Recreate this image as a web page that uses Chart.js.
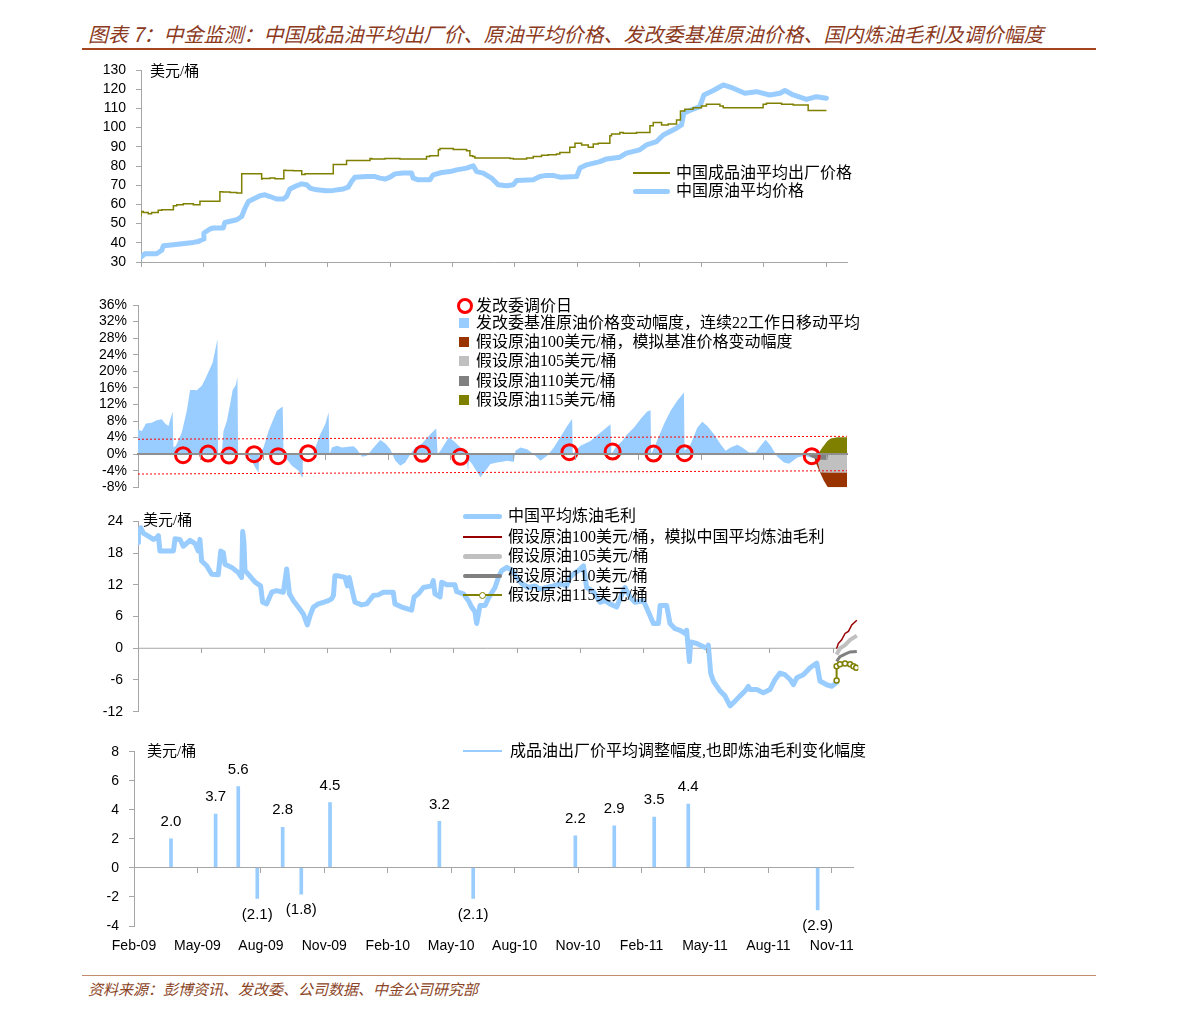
<!DOCTYPE html>
<html lang="zh-CN">
<head>
<meta charset="utf-8">
<title>中金监测：成品油价格、原油价格与炼油毛利</title>
<script src="https://cdn.jsdelivr.net/npm/chart.js@4.4.1/dist/chart.umd.min.js"></script>
<style>
    html, body { margin: 0; padding: 0; background: #fff; }
    #page { position: relative; width: 1191px; height: 1016px; overflow: hidden; }
    #page canvas { position: absolute; left: 0; }
    .txt { position: absolute; white-space: nowrap; font-family: "Liberation Serif", "Noto Sans CJK SC", serif; color: #000; }
    .cap { font-family: "Noto Sans CJK SC", sans-serif; font-style: italic; }
    .sw { position: absolute; box-sizing: border-box; }
</style>
</head>
<body>
<div id="page">
    <canvas id="priceChart"></canvas>
    <canvas id="benchChart"></canvas>
    <canvas id="marginChart"></canvas>
    <canvas id="moveChart"></canvas>
</div>

<script>
// x values are months counted from 1 Feb 2009 (Feb-09 = 0, May-09 = 3, ...)
const quarterLabels = ['Feb-09', 'May-09', 'Aug-09', 'Nov-09', 'Feb-10', 'May-10', 'Aug-10', 'Nov-10', 'Feb-11', 'May-11', 'Aug-11', 'Nov-11'];

// Panel 1: USD/bbl
const exFactoryPrice = [[0, 53.7], [0.11, 56.3], [0.35, 55.8], [0.51, 55.1], [0.83, 55.8], [1.0, 56.9], [1.56, 57.2], [1.72, 59.3], [2.04, 59.8], [2.52, 60.3], [2.84, 59.8], [2.97, 61.7], [3.8, 61.7], [3.93, 66.6], [4.29, 66.4], [4.61, 66.2], [4.85, 65.9], [4.93, 75.9], [5.81, 75.9], [5.84, 73.2], [6.21, 73.5], [6.45, 73.8], [6.88, 73.3], [6.98, 77.8], [7.33, 77.7], [7.74, 77.5], [7.9, 75.6], [8.14, 75.9], [9.26, 75.9], [9.29, 80.8], [9.9, 80.8], [9.98, 82.9], [11.03, 82.9], [11.11, 83.9], [11.75, 83.6], [12.47, 83.9], [13.75, 83.7], [13.91, 84.9], [14.32, 85.3], [14.4, 88.4], [15.04, 89.1], [15.68, 88.6], [15.84, 87.9], [15.97, 85.3], [16.08, 84.9], [16.96, 84.2], [17.77, 84.2], [17.93, 83.9], [18.57, 83.6], [18.89, 84.2], [19.29, 84.9], [19.61, 85.6], [20.01, 85.8], [20.17, 86.2], [20.65, 87.0], [20.9, 89.8], [21.22, 91.9], [21.54, 91.0], [21.78, 89.8], [22.02, 91.5], [22.58, 91.9], [22.66, 95.7], [23.06, 96.7], [23.22, 97.4], [23.86, 97.1], [24.51, 97.4], [24.67, 100.9], [25.07, 102.6], [25.39, 101.4], [25.79, 101.9], [25.98, 104.0], [26.19, 108.7], [26.59, 109.5], [26.99, 110.4], [27.23, 111.3], [27.88, 112.2], [28.04, 111.3], [29.0, 110.4], [29.96, 110.4], [30.12, 112.2], [30.85, 112.7], [31.41, 112.2], [32.13, 111.8], [32.29, 108.9], [33.01, 108.9]];
const crudePrice = [[0, 32.6], [0.19, 34.3], [0.75, 34.3], [1.0, 36.1], [1.08, 38.5], [1.56, 39.0], [1.88, 39.4], [2.52, 40.2], [2.76, 40.7], [3.0, 42.0], [3.03, 45.1], [3.32, 47.2], [3.48, 47.7], [3.96, 47.7], [4.04, 50.6], [4.61, 52.0], [4.85, 53.7], [5.01, 58.1], [5.17, 61.5], [5.41, 62.8], [5.73, 64.5], [5.97, 65.0], [6.21, 64.1], [6.53, 62.8], [6.85, 62.8], [7.01, 64.1], [7.17, 68.0], [7.49, 69.7], [7.74, 70.7], [7.98, 70.2], [8.14, 68.5], [8.46, 67.6], [8.94, 67.1], [9.26, 67.3], [9.74, 68.0], [9.98, 69.0], [10.14, 71.9], [10.3, 74.2], [10.86, 74.5], [11.27, 74.5], [11.51, 73.7], [11.75, 73.2], [11.99, 74.2], [12.23, 75.9], [12.63, 76.3], [13.03, 76.3], [13.11, 73.7], [13.35, 72.8], [13.91, 72.8], [14.07, 75.4], [14.48, 76.6], [14.88, 77.1], [15.2, 78.0], [15.68, 78.9], [16.0, 80.1], [16.16, 77.1], [16.48, 76.3], [16.88, 73.7], [17.2, 70.2], [17.61, 69.7], [17.93, 70.2], [18.09, 72.5], [18.89, 72.8], [19.21, 74.5], [19.53, 75.1], [19.85, 75.1], [20.17, 74.2], [20.98, 74.5], [21.14, 78.9], [21.46, 80.6], [22.1, 82.3], [22.42, 83.7], [23.06, 84.6], [23.38, 86.7], [24.02, 88.4], [24.34, 91.0], [24.83, 92.7], [25.15, 96.2], [25.79, 99.7], [26.03, 101.4], [26.14, 107.5], [26.43, 108.9], [26.91, 110.9], [27.11, 117.0], [27.56, 119.3], [28.04, 122.2], [28.52, 120.5], [29.08, 117.9], [29.64, 118.7], [30.28, 117.0], [30.77, 117.9], [31.01, 119.3], [31.41, 117.0], [32.05, 114.7], [32.53, 116.1], [33.01, 115.3]];

// Panel 2: %
const benchChange = [[0, 6.0], [0.18, 5.5], [0.38, 7.4], [0.66, 7.6], [0.9, 8.2], [1.14, 8.4], [1.3, 7.4], [1.46, 6.8], [1.66, 10.3], [1.7, 1.6], [1.82, 2.0], [2.1, 5.2], [2.34, 10.5], [2.5, 15.5], [2.66, 15.5], [2.82, 15.4], [3.06, 16.5], [3.22, 18.1], [3.42, 20.3], [3.58, 22.1], [3.7, 25.0], [3.81, 27.8], [3.84, 0], [4.02, 0.2], [4.1, 5.6], [4.26, 8.0], [4.42, 12.1], [4.54, 15.5], [4.69, 16.7], [4.77, 18.7], [4.8, 0], [5.22, 0.2], [5.38, -0.8], [5.62, -3.2], [5.78, -4.4], [5.82, 0], [6.02, 1.6], [6.26, 5.6], [6.42, 7.6], [6.66, 10.5], [6.94, 11.5], [6.98, 0], [7.14, -1.2], [7.38, -2.8], [7.7, -4.0], [7.87, -5.6], [7.9, 0], [8.42, 0.4], [8.74, 4.8], [8.98, 7.2], [9.14, 10.1], [9.18, 0], [9.3, 1.6], [9.54, 2.0], [9.78, 1.6], [10.1, 1.8], [10.34, 1.9], [10.5, 1.2], [10.74, -0.6], [10.98, -0.4], [11.3, 1.6], [11.62, 3.4], [11.86, 2.6], [12.1, 1.2], [12.34, -1.6], [12.58, -2.8], [12.82, -2.0], [13.06, 0], [13.3, 1.6], [13.62, 2.6], [14.02, 4.8], [14.3, 6.2], [14.37, 0], [14.5, 0.8], [14.9, 4.0], [15.14, 3.2], [15.38, 2.0], [15.62, 0.8], [15.78, -1.0], [15.82, -4.4], [15.87, -1.5], [16.02, -2.4], [16.42, -5.6], [16.66, -4.0], [16.9, -2.4], [17.22, -2.0], [17.54, -1.8], [17.7, -1.6], [18.02, -1.9], [18.1, 0.8], [18.34, 1.6], [18.66, 1.2], [18.98, 0], [19.3, -1.6], [19.62, -0.4], [19.94, 1.6], [20.34, 4.8], [20.58, 6.8], [20.82, 8.5], [20.85, 0], [21.22, 2.0], [21.7, 3.2], [22.18, 5.2], [22.66, 7.2], [22.7, 0], [22.9, 1.6], [23.22, 3.2], [23.46, 4.8], [23.78, 6.4], [24.1, 8.5], [24.42, 10.3], [24.58, 10.6], [24.61, 0], [24.82, 2.4], [25.22, 7.2], [25.54, 10.5], [25.86, 12.9], [26.18, 14.9], [26.21, 0.8], [26.5, 2.4], [26.82, 6.4], [27.06, 7.8], [27.3, 6.8], [27.62, 4.8], [27.94, 2.4], [28.18, 0.8], [28.42, 1.6], [28.74, 2.3], [28.98, 1.6], [29.3, 0.4], [29.62, 0.4], [29.86, 2.0], [30.1, 3.5], [30.34, 2.0], [30.66, -0.6], [30.98, -2.0], [31.22, -2.3], [31.62, -0.8], [31.94, -0.4], [32.26, -0.8], [32.34, -0.5]];
const adjustDays = [[2.16, -0.24], [3.36, 0.15], [4.37, -0.34], [5.57, 0], [6.72, -0.48], [8.16, 0.24], [13.63, 0.07], [15.46, -0.65], [20.69, 0.48], [22.76, 0.63], [24.72, 0.15], [26.21, 0.24], [32.31, -0.48]];
const bandUpper = [[0, 3.6], [34, 4.3]];
const bandLower = [[0, -4.8], [34, -4.0]];
const sim100Change = [[32.4, 0], [32.5, -2.0], [32.6, -3.2], [32.74, -4.8], [32.89, -6.4], [33.08, -8.0], [33.2, -8.6], [34, -8.6]];
const sim105Change = [[32.5, 0], [32.72, -4.4], [33.2, -4.5], [34, -4.5]];
const sim110Change = [[32.1, 0], [32.3, -0.8], [32.6, -1.3], [33.05, -1.4], [33.1, 0], [34, 0]];
const sim115Change = [[32.6, 0], [32.82, 1.6], [33.06, 3.2], [33.22, 3.8], [33.54, 4.1], [34, 4.1]];

// Panel 3: USD/bbl
const refMargin = [[0, 20.0], [0.02, 21.5], [0.13, 22.8], [0.25, 21.8], [0.49, 21.2], [0.73, 20.6], [0.89, 20.9], [0.97, 21.3], [1.04, 18.4], [1.68, 18.4], [1.76, 20.7], [1.99, 20.6], [2.15, 19.3], [2.47, 20.4], [2.71, 19.8], [2.86, 18.4], [2.94, 20.6], [3.02, 16.5], [3.26, 15.6], [3.5, 14.0], [3.81, 13.9], [3.93, 18.4], [4.05, 18.1], [4.13, 15.9], [4.45, 15.3], [4.76, 14.3], [4.92, 13.4], [4.97, 22.1], [5.03, 20.0], [5.08, 14.7], [5.24, 14.0], [5.56, 12.5], [5.82, 11.8], [5.92, 8.7], [6.11, 8.4], [6.35, 10.6], [6.58, 10.9], [6.9, 10.6], [7.06, 15.0], [7.19, 10.3], [7.38, 9.0], [7.61, 7.8], [7.85, 6.5], [8.04, 4.4], [8.17, 6.2], [8.33, 7.8], [8.56, 8.4], [8.8, 8.7], [9.04, 9.0], [9.2, 9.4], [9.28, 10.0], [9.35, 13.7], [9.51, 13.7], [9.83, 13.4], [9.94, 11.8], [10.03, 13.4], [10.15, 11.2], [10.3, 8.7], [10.62, 8.2], [10.86, 8.4], [11.17, 10.0], [11.41, 10.1], [11.65, 10.6], [12.12, 10.6], [12.2, 8.4], [12.52, 7.8], [12.76, 7.5], [12.99, 7.2], [13.11, 9.7], [13.31, 10.3], [13.55, 11.5], [13.94, 11.8], [14.02, 12.8], [14.1, 10.3], [14.34, 9.7], [14.42, 12.5], [14.66, 12.0], [15.05, 12.0], [15.13, 10.7], [15.45, 10.3], [15.69, 9.0], [15.84, 7.8], [16.0, 6.9], [16.08, 4.7], [16.24, 8.1], [16.48, 8.1], [16.63, 9.4], [16.95, 11.5], [17.11, 13.4], [17.27, 14.7], [17.51, 15.3], [17.74, 14.8], [17.98, 13.4], [18.22, 12.2], [18.53, 11.5], [18.85, 11.8], [19.09, 11.2], [19.4, 11.5], [19.72, 11.8], [20.04, 12.2], [20.35, 11.8], [20.51, 13.4], [20.75, 14.3], [20.91, 14.7], [21.15, 15.6], [21.3, 11.5], [21.62, 10.7], [21.94, 8.7], [22.17, 9.0], [22.41, 8.4], [22.73, 7.8], [22.89, 9.4], [23.12, 11.5], [23.36, 9.7], [23.6, 8.7], [24.0, 9.0], [24.23, 6.9], [24.47, 4.7], [24.71, 4.7], [24.79, 8.1], [25.1, 8.1], [25.26, 4.7], [25.5, 3.7], [25.74, 3.4], [25.97, 2.8], [26.05, 3.4], [26.18, -2.5], [26.24, 1.2], [26.53, 0.9], [26.84, 0.3], [27.0, 0], [27.08, 0.6], [27.19, -4.7], [27.32, -6.2], [27.64, -8.1], [27.87, -9.0], [28.11, -10.9], [28.35, -10.0], [28.59, -9.0], [28.82, -8.1], [28.98, -7.2], [29.06, -7.8], [29.38, -7.8], [29.69, -8.4], [30.01, -7.8], [30.25, -5.9], [30.48, -4.7], [30.72, -5.0], [30.96, -5.9], [31.12, -6.9], [31.28, -5.6], [31.59, -5.0], [31.91, -3.7], [32.23, -2.8], [32.38, -6.2], [32.7, -6.9], [32.94, -7.2], [33.17, -6.5]];
const sim100Margin = [[33.17, -0.1], [33.25, 0.9], [33.41, 1.6], [33.57, 2.8], [33.73, 3.2], [33.89, 4.4], [34.13, 5.3]];
const sim105Margin = [[33.17, -1.2], [33.33, 0], [33.57, 0.6], [33.81, 1.6], [34.13, 2.4]];
const sim110Margin = [[33.17, -2.5], [33.33, -1.6], [33.57, -1.1], [33.81, -0.7], [34.13, -0.6]];
const sim115Margin = [[33.17, -6.1], [33.17, -3.4], [33.33, -3.0], [33.57, -2.9], [33.81, -3.0], [33.97, -3.4], [34.1, -3.7]];

// Panel 4: USD/bbl per adjustment
const priceMoves = [[1.75, 2.0], [3.86, 3.7], [4.93, 5.6], [5.83, -2.1], [7.03, 2.8], [7.91, -1.8], [9.27, 4.5], [14.44, 3.2], [16.04, -2.1], [20.87, 2.2], [22.71, 2.9], [24.6, 3.5], [26.21, 4.4], [32.33, -2.9]];

const BLUE = '#99ccff';
const OLIVE = '#808000';
const AXIS = '#a6a6a6';
const Y_AXIS_W = 60;

Chart.defaults.font.family = '"Liberation Sans", Arial, sans-serif';
Chart.defaults.font.size = 14;
Chart.defaults.color = '#000';

const xy = pairs => pairs.map(([x, y]) => ({ x, y }));

// place a canvas and work out the padding that puts the plot area where we want it
function mount(id, top, height, area, xAxisH) {
    const c = document.getElementById(id);
    c.width = 1191;
    c.height = height;
    c.style.top = top + 'px';
    return {
        canvas: c,
        padding: {
            left: area.left - Y_AXIS_W,
            top: area.top - top,
            right: 1191 - area.right,
            bottom: top + height - area.bottom - xAxisH
        }
    };
}

function yAxis(min, max, step, pad, fmt) {
    return {
        type: 'linear', position: 'left', min, max,
        afterFit: s => { s.width = Y_AXIS_W; },
        border: { color: AXIS },
        grid: { drawOnChartArea: false, tickLength: 5, color: AXIS },
        ticks: { stepSize: step, padding: pad, autoSkip: false, callback: fmt || (v => v) }
    };
}

function xAxis(max, position, opts) {
    opts = opts || {};
    return {
        type: 'linear', position, min: 0, max, offset: false,
        afterFit: s => { s.height = 5; },
        border: { display: opts.border !== false, color: opts.borderColor || AXIS, width: opts.borderWidth || 1, z: 1 },
        grid: { drawOnChartArea: false, tickLength: 5, color: AXIS, offset: false, z: 1 },
        ticks: { display: false, stepSize: 3, includeBounds: false, autoSkip: false }
    };
}

function baseOptions(padding, scales) {
    return {
        responsive: false, animation: false, devicePixelRatio: 1, events: [],
        layout: { padding },
        elements: { point: { radius: 0 }, line: { tension: 0 } },
        plugins: { legend: { display: false }, tooltip: { enabled: false } },
        scales
    };
}

// ---------- Panel 1 ----------
const p1 = mount('priceChart', 50, 232, { left: 141, top: 70, right: 847, bottom: 262 }, 5);
new Chart(p1.canvas, {
    type: 'line',
    data: {
        datasets: [
            { label: '中国成品油平均出厂价格', data: xy(exFactoryPrice), borderColor: OLIVE, borderWidth: 1.5, stepped: 'after' },
            { label: '中国原油平均价格', data: xy(crudePrice), borderColor: BLUE, borderWidth: 5, borderJoinStyle: 'round', borderCapStyle: 'round' }
        ]
    },
    options: baseOptions(p1.padding, { x: xAxis(34, 'bottom'), y: yAxis(30, 130, 10, 10) })
});

// ---------- Panel 2 ----------
// first dataset is drawn on top
const p2 = mount('benchChart', 284, 218, { left: 138, top: 305, right: 847, bottom: 487.3 }, 0);
new Chart(p2.canvas, {
    type: 'line',
    data: {
        datasets: [
            { label: '发改委调价日', data: xy(adjustDays), showLine: false, pointRadius: 7.5, pointBorderWidth: 3, pointBorderColor: '#ff0000', pointBackgroundColor: 'rgba(0,0,0,0)' },
            { data: xy(bandUpper), borderColor: '#ff0000', borderWidth: 1, borderDash: [2, 2] },
            { data: xy(bandLower), borderColor: '#ff0000', borderWidth: 1, borderDash: [2, 2] },
            { label: '假设原油115美元/桶', data: xy(sim115Change), borderWidth: 0, fill: 'origin', backgroundColor: OLIVE },
            { label: '假设原油110美元/桶', data: xy(sim110Change), borderWidth: 0, fill: 'origin', backgroundColor: '#808080' },
            { label: '假设原油105美元/桶', data: xy(sim105Change), borderWidth: 0, fill: 'origin', backgroundColor: '#c0c0c0' },
            { label: '假设原油100美元/桶，模拟基准价格变动幅度', data: xy(sim100Change), borderWidth: 0, fill: 'origin', backgroundColor: '#993300' },
            { label: '发改委基准原油价格变动幅度，连续22工作日移动平均', data: xy(benchChange), borderWidth: 0, fill: 'origin', backgroundColor: BLUE }
        ]
    },
    options: baseOptions(p2.padding, {
        x: xAxis(34, { y: 0 }, { borderColor: '#8f8f8f', borderWidth: 2 }),
        y: yAxis(-8, 36, 4, 6, v => v + '%')
    })
});

// ---------- Panel 3 ----------
const p3 = mount('marginChart', 503, 228, { left: 138, top: 520, right: 858.3, bottom: 711.7 }, 0);
const marginSpan = [[refMargin[0][0], 0], [refMargin[refMargin.length - 1][0], 0]];
new Chart(p3.canvas, {
    type: 'line',
    data: {
        datasets: [
            { label: '假设原油115美元/桶', data: xy(sim115Margin), borderColor: OLIVE, borderWidth: 2, pointRadius: 2.5, pointBorderWidth: 1.5, pointBorderColor: OLIVE, pointBackgroundColor: '#fff' },
            { label: '假设原油110美元/桶', data: xy(sim110Margin), borderColor: '#808080', borderWidth: 3 },
            { label: '假设原油105美元/桶', data: xy(sim105Margin), borderColor: '#c0c0c0', borderWidth: 4 },
            { label: '假设原油100美元/桶，模拟中国平均炼油毛利', data: xy(sim100Margin), borderColor: '#990000', borderWidth: 1.5 },
            { label: '中国平均炼油毛利', data: xy(refMargin), borderColor: BLUE, borderWidth: 5, borderJoinStyle: 'round', borderCapStyle: 'round' },
            { data: xy(marginSpan), borderColor: AXIS, borderWidth: 1 }
        ]
    },
    options: baseOptions(p3.padding, {
        x: xAxis(34.2, { y: 0 }, { border: false }),
        y: yAxis(-12, 24, 6, 10)
    })
});

// ---------- Panel 4 ----------
const moveLabels = {
    id: 'moveLabels',
    afterDatasetsDraw(chart) {
        const ctx = chart.ctx;
        const meta = chart.getDatasetMeta(0);
        ctx.save();
        ctx.font = '15px "Liberation Sans", Arial, sans-serif';
        ctx.fillStyle = '#000';
        ctx.textAlign = 'center';
        ctx.textBaseline = 'middle';
        meta.data.forEach((bar, i) => {
            const v = priceMoves[i][1];
            const txt = v < 0 ? '(' + Math.abs(v).toFixed(1) + ')' : v.toFixed(1);
            ctx.fillText(txt, bar.x, v < 0 ? bar.y + 16 : bar.y - 17);
        });
        ctx.restore();
    }
};

const p4 = mount('moveChart', 732, 236, { left: 134, top: 751.7, right: 853, bottom: 926 }, 30);
new Chart(p4.canvas, {
    type: 'bar',
    data: {
        datasets: [
            { label: '成品油出厂价平均调整幅度,也即炼油毛利变化幅度', data: xy(priceMoves), backgroundColor: BLUE, barThickness: 3 }
        ]
    },
    options: baseOptions(p4.padding, {
        x: xAxis(34, { y: 0 }),
        xl: {
            type: 'linear', axis: 'x', position: 'bottom', min: 0, max: 34, offset: false,
            afterFit: s => { s.height = 30; },
            border: { display: false },
            grid: { display: false, drawTicks: false },
            ticks: { stepSize: 3, includeBounds: false, autoSkip: false, maxRotation: 0, padding: 12, callback: v => quarterLabels[v / 3] }
        },
        y: yAxis(-4, 8, 2, 10)
    }),
    plugins: [moveLabels]
});

// ---------- Captions, units and legends ----------
const page = document.getElementById('page');
function put(html) { page.insertAdjacentHTML('beforeend', html); }
function label(x, cy, str, size, cls, style) {
    const h = Math.round(size * 1.5);
    put(`<div class="txt ${cls || ''}" style="left:${x}px;top:${cy - h / 2}px;height:${h}px;line-height:${h}px;font-size:${size}px;${style || ''}">${str}</div>`);
}
function bar(x1, x2, cy, w, color, round) {
    put(`<div class="sw" style="left:${x1}px;top:${cy - w / 2}px;width:${x2 - x1}px;height:${w}px;background:${color};border-radius:${round ? w / 2 : 0}px"></div>`);
}
function box(cx, cy, s, color) {
    put(`<div class="sw" style="left:${cx - s / 2}px;top:${cy - s / 2}px;width:${s}px;height:${s}px;background:${color}"></div>`);
}
function ring(cx, cy, r, bw, color, fill) {
    put(`<div class="sw" style="left:${cx - r}px;top:${cy - r}px;width:${2 * r}px;height:${2 * r}px;border:${bw}px solid ${color};border-radius:50%;background:${fill}"></div>`);
}

// title + source
label(88, 34, '图表 7：中金监测：中国成品油平均出厂价、原油平均价格、发改委基准原油价格、国内炼油毛利及调价幅度', 20, 'cap', 'color:#8b3a1e;');
bar(82, 1096, 49, 1.5, '#a5451f');
bar(82, 1096, 975.5, 1.5, '#c48a6c');
label(88, 988, '资料来源：彭博资讯、发改委、公司数据、中金公司研究部', 15, 'cap', 'color:#8b4526;');

// units
label(150, 71, '美元/桶', 15);
label(143, 520, '美元/桶', 15);
label(147, 751, '美元/桶', 15);

// panel 1 legend
bar(633, 670, 173, 1.5, OLIVE);
label(676, 173, '中国成品油平均出厂价格', 16);
bar(633, 670, 191, 5, BLUE, true);
label(676, 191, '中国原油平均价格', 16);

// panel 2 legend
ring(465, 306, 8, 3, '#ff0000', 'transparent');
label(476, 306, '发改委调价日', 16);
box(464, 323, 10, BLUE);
label(476, 323, '发改委基准原油价格变动幅度，连续22工作日移动平均', 16);
box(464, 342, 10, '#993300');
label(476, 342, '假设原油100美元/桶，模拟基准价格变动幅度', 16);
box(464, 361, 10, '#c0c0c0');
label(476, 361, '假设原油105美元/桶', 16);
box(464, 380.5, 10, '#808080');
label(476, 380.5, '假设原油110美元/桶', 16);
box(464, 400, 10, OLIVE);
label(476, 400, '假设原油115美元/桶', 16);

// panel 3 legend
bar(463, 502, 516, 5, BLUE, true);
label(508, 516, '中国平均炼油毛利', 16);
bar(463, 502, 537, 1.5, '#990000');
label(508, 537, '假设原油100美元/桶，模拟中国平均炼油毛利', 16);
bar(463, 502, 556, 5, '#c0c0c0', true);
label(508, 556, '假设原油105美元/桶', 16);
bar(463, 502, 576, 4, '#808080', true);
label(508, 576, '假设原油110美元/桶', 16);
bar(463, 502, 595, 2, OLIVE);
ring(482, 595, 3.5, 1.5, OLIVE, '#fff');
label(508, 595, '假设原油115美元/桶', 16);

// panel 4 legend
bar(463, 502, 751, 1.5, BLUE);
label(510, 751, '成品油出厂价平均调整幅度,也即炼油毛利变化幅度', 16);
</script>
</body>
</html>
